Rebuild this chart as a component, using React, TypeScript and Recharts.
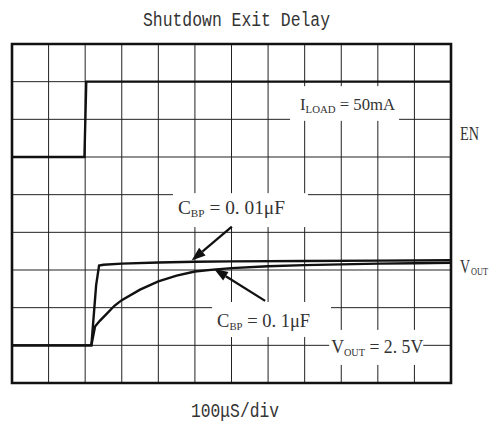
import React from 'react'
import { CartesianGrid, Line, LineChart, ReferenceArea, ReferenceLine, XAxis, YAxis } from 'recharts'

// time in divisions (100µS/div), level in divisions from bottom of screen
const enTime = [0, 1.98, 2.03, 12]
const enLevel = [6, 6, 8, 8]

const fastTime = [0, 2.17, 2.3, 2.38, 2.5, 3, 4, 5, 6, 8, 10, 12]
const fastLevel = [1, 1, 2.6, 3.12, 3.14, 3.17, 3.2, 3.22, 3.23, 3.24, 3.25, 3.26]

const slowTime = [0, 2.17, 2.27, 2.4, 2.6, 2.8, 3, 3.5, 4, 4.5, 5, 5.5, 6, 7, 8, 9, 10, 11, 12]
const slowLevel = [1, 1, 1.5, 1.65, 1.85, 2.05, 2.2, 2.48, 2.7, 2.85, 2.96, 3.01, 3.05, 3.1, 3.13, 3.15, 3.17, 3.18, 3.19]

const xTicks = [0, 1, 2, 3, 4, 5, 6, 7, 8, 9, 10, 11, 12]
const yTicks = [0, 1, 2, 3, 4, 5, 6, 7, 8, 9]

// channel names at the right edge of the screen
const sideLevels = [6.64, 3.1]
const sideNames = [['EN', ''], ['V', 'OUT']]

const toPoints = (t: number[], v: number[]) => t.map((x, i) => ({ t: x, v: v[i] }))
const enData = toPoints(enTime, enLevel)
const fastData = toPoints(fastTime, fastLevel)
const slowData = toPoints(slowTime, slowLevel)

const ink = '#111'
const serif = '"Liberation Serif", serif'

interface Note {
  x1: number
  x2: number
  y1: number
  y2: number
  main: string
  sub: string
  rest: string
  dx: number
  dy: number
  len: number
  size: number
}

const notes: Note[] = [
  { x1: 4.4, x2: 8.09, y1: 4.14, y2: 5.04, main: 'C', sub: 'BP', rest: ' = 0. 01μF', dx: 5, dy: 21, len: 107, size: 19 },
  { x1: 5.47, x2: 8.72, y1: 1.22, y2: 2.15, main: 'C', sub: 'BP', rest: ' = 0. 1μF', dx: 5, dy: 25, len: 93, size: 19 },
  { x1: 8.67, x2: 11.24, y1: 0.48, y2: 1.41, main: 'V', sub: 'OUT', rest: ' = 2. 5V', dx: 2, dy: 23, len: 92, size: 19 },
  { x1: 7.6, x2: 10.58, y1: 6.96, y2: 7.88, main: 'I', sub: 'LOAD', rest: ' = 50mA', dx: 10, dy: 24, len: 95, size: 17 },
]

const arrows = [
  [{ x: 6.01, y: 4.15 }, { x: 4.91, y: 3.25 }],
  [{ x: 6.92, y: 2.18 }, { x: 5.52, y: 3.03 }],
]

function arrowShape(p: any) {
  const { x1, y1, x2, y2 } = p
  const a = Math.atan2(y2 - y1, x2 - x1)
  const len = 14
  const w = 5
  const bx = x2 - len * Math.cos(a)
  const by = y2 - len * Math.sin(a)
  const nx = -Math.sin(a) * w
  const ny = Math.cos(a) * w
  return (
    <g>
      <line x1={x1} y1={y1} x2={bx} y2={by} stroke={ink} strokeWidth={2.3} />
      <polygon points={`${x2},${y2} ${bx + nx},${by + ny} ${bx - nx},${by - ny}`} fill={ink} />
    </g>
  )
}

function noteShape(n: Note) {
  return (p: any) => (
    <g>
      <rect x={p.x} y={p.y} width={p.width} height={p.height} fill='#fff' />
      <text
        x={p.x + n.dx}
        y={p.y + n.dy}
        fontFamily={serif}
        fontSize={n.size}
        fill='#333'
        textLength={n.len}
        lengthAdjust='spacingAndGlyphs'
      >
        <tspan>{n.main}</tspan>
        <tspan fontSize={11} dy={3}>{n.sub}</tspan>
        <tspan dy={-3}>{n.rest}</tspan>
      </text>
    </g>
  )
}

function sideLabel(main: string, sub: string) {
  return (p: any) => {
    const vb = p.viewBox || {}
    const x = (vb.x || 0) + (vb.width || 0) + 9
    const y = (vb.y || 0) + 7
    if (!sub) {
      return (
        <text x={x} y={y} fontFamily={serif} fontSize={19} fill='#333' textLength={19} lengthAdjust='spacingAndGlyphs'>
          {main}
        </text>
      )
    }
    return (
      <g>
        <text x={x} y={y} fontFamily={serif} fontSize={18} fill='#333' textLength={10} lengthAdjust='spacingAndGlyphs'>
          {main}
        </text>
        <text x={x + 11} y={y + 2} fontFamily={serif} fontSize={11} fill='#333' textLength={17} lengthAdjust='spacingAndGlyphs'>
          {sub}
        </text>
      </g>
    )
  }
}

export default function App() {
  return (
    <div style={{ position: 'absolute', left: 0, top: 0, width: 495, height: 426, background: '#fff' }}>
      <svg width={495} height={426} style={{ position: 'absolute', left: 0, top: 0 }}>
        <text
          x={143}
          y={26}
          fontFamily='"Liberation Mono", monospace'
          fontSize={20}
          fill='#333'
          textLength={187}
          lengthAdjust='spacingAndGlyphs'
        >
          Shutdown Exit Delay
        </text>
        <text
          x={191}
          y={417}
          fontFamily='"Liberation Mono", monospace'
          fontSize={20}
          fill='#333'
          textLength={88}
          lengthAdjust='spacingAndGlyphs'
        >
          100μS/div
        </text>
      </svg>
      <div style={{ position: 'absolute', left: 0, top: 0 }}>
        <LineChart width={495} height={426} margin={{ top: 44, right: 44, bottom: 43, left: 12 }}>
          <XAxis dataKey='t' type='number' domain={[0, 12]} ticks={xTicks} allowDataOverflow hide />
          <YAxis yAxisId='l' type='number' domain={[0, 9]} ticks={yTicks} allowDataOverflow hide width={0} />
          <CartesianGrid yAxisId='l' stroke='#222' strokeWidth={1} />
          {notes.map((n, i) => (
            <ReferenceArea
              key={`note-${i}`}
              yAxisId='l'
              x1={n.x1}
              x2={n.x2}
              y1={n.y1}
              y2={n.y2}
              shape={noteShape(n)}
            />
          ))}
          <ReferenceArea yAxisId='l' x1={0} x2={12} y1={0} y2={9} fill='none' stroke={ink} strokeWidth={2.6} />
          <Line yAxisId='l' data={enData} dataKey='v' type='linear' stroke={ink} strokeWidth={2.4} dot={false} isAnimationActive={false} />
          <Line yAxisId='l' data={slowData} dataKey='v' type='linear' stroke={ink} strokeWidth={2.4} dot={false} isAnimationActive={false} />
          <Line yAxisId='l' data={fastData} dataKey='v' type='linear' stroke={ink} strokeWidth={2.4} dot={false} isAnimationActive={false} />
          {arrows.map((seg, i) => (
            <ReferenceLine key={`arrow-${i}`} yAxisId='l' segment={seg} shape={arrowShape} />
          ))}
          {sideLevels.map((lv, i) => (
            <ReferenceLine
              key={`side-${i}`}
              yAxisId='l'
              y={lv}
              stroke='none'
              label={{ content: sideLabel(sideNames[i][0], sideNames[i][1]) }}
            />
          ))}
        </LineChart>
      </div>
    </div>
  )
}
